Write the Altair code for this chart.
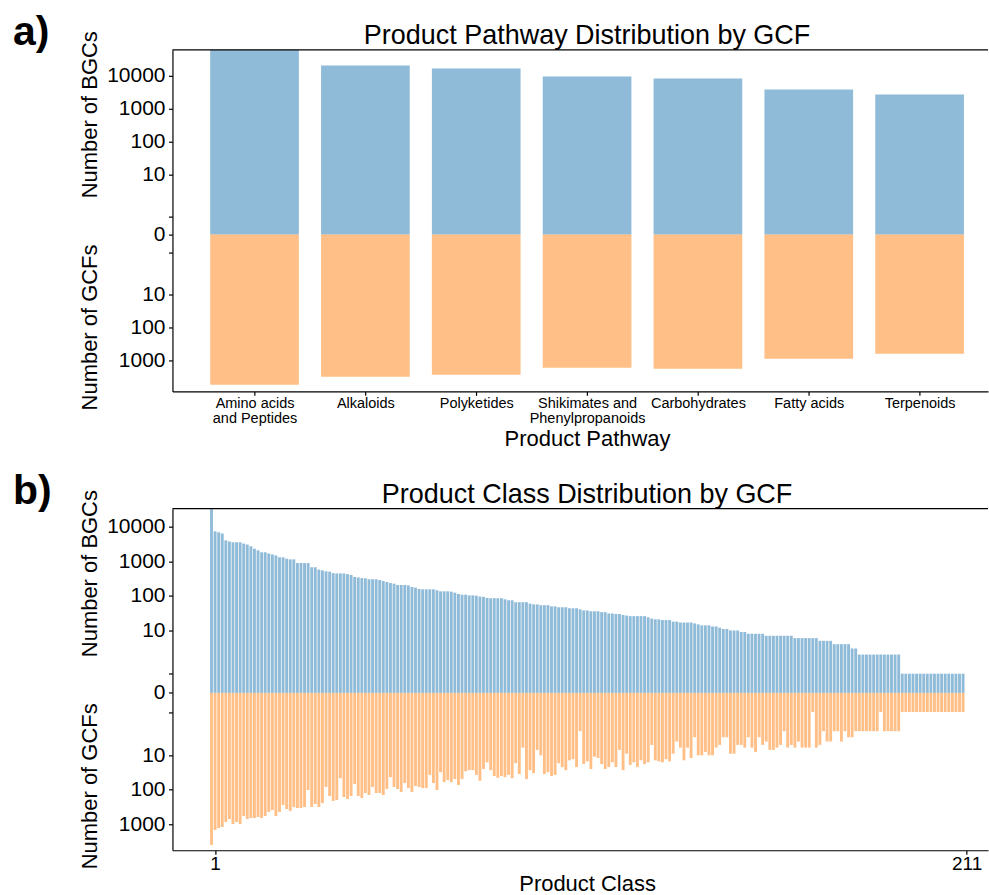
import json
import math
import altair as alt
import pandas as pd

# ---------------- data ----------------
pathways = ["Amino acids and Peptides", "Alkaloids", "Polyketides",
            "Shikimates and Phenylpropanoids", "Carbohydrates", "Fatty acids", "Terpenoids"]
pathway_label_lines = [["Amino acids", "and Peptides"], ["Alkaloids"], ["Polyketides"],
                       ["Shikimates and", "Phenylpropanoids"], ["Carbohydrates"],
                       ["Fatty acids"], ["Terpenoids"]]
pathway_bgcs = [60000, 20000, 16200, 9300, 8100, 3770, 2660]
pathway_gcfs = [5370, 3075, 2680, 1650, 1765, 880, 622]

class_bgcs = [
    36000, 7500, 7000, 6500, 4100, 3800, 3600, 3600, 3600, 3300,
    3100, 2750, 2350, 2100, 1850, 1850, 1700, 1600, 1500, 1320,
    1320, 1200, 1150, 1150, 900, 900, 900, 900, 680, 680,
    580, 550, 520, 505, 460, 450, 450, 450, 430, 405,
    355, 345, 330, 325, 305, 305, 305, 290, 270, 255,
    237, 227, 208, 208, 208, 203, 182, 174, 159, 156,
    156, 156, 156, 146, 136, 136, 136, 133, 125, 114,
    109, 109, 104, 104, 102, 96, 94, 88, 86, 86,
    86, 86, 80, 75, 75, 66, 66, 66, 66, 60,
    57, 57, 54, 54, 54, 50, 50, 47, 47, 47,
    44, 44, 44, 41, 38, 38, 36, 36, 36, 34,
    34, 31, 31, 30, 30, 28, 27, 26, 26, 26,
    26, 26, 24, 22, 21, 21, 20, 20, 20, 18,
    18, 17, 17, 17, 17, 16, 15, 14, 14, 14,
    13, 13, 12, 11, 11, 10, 10, 10, 9, 9,
    8, 8, 8, 8, 8, 7, 7, 7, 7, 7,
    7, 7, 7, 6, 6, 6, 6, 6, 6, 6,
    5, 5, 5, 5, 4, 4, 4, 4, 4, 3,
    3, 2, 2, 2, 2, 2, 2, 2, 2, 2,
    2, 2, 2, 1, 1, 1, 1, 1, 1, 1,
    1, 1, 1, 1, 1, 1, 1, 1, 1, 1,
    1,
]
class_gcfs = [
    4000, 1470, 1290, 1200, 860, 705, 985, 860, 985, 577,
    705, 660, 660, 617, 660, 577, 441, 386, 577, 441,
    277, 361, 413, 316, 338, 338, 316, 102, 316, 259,
    316, 242, 83, 152, 212, 198, 46, 162, 186, 152,
    68, 152, 174, 124, 142, 83, 124, 124, 142, 95,
    43, 83, 95, 116, 64, 89, 116, 78, 83, 89,
    89, 37, 64, 102, 31, 60, 52, 60, 49, 73,
    49, 29, 27, 27, 37, 55, 25, 16, 27, 40,
    45, 40, 43, 37, 46, 17, 35, 6, 49, 27,
    33, 7, 10, 35, 31, 40, 37, 17, 22, 27,
    14, 13, 22, 2, 18, 15, 25, 11, 12, 18,
    25, 22, 16, 22, 7, 27, 9, 19, 16, 22,
    14, 18, 16, 5, 14, 15, 16, 13, 15, 9,
    4, 6, 14, 6, 12, 3, 10, 10, 8, 10,
    10, 6, 5, 3, 3, 9, 9, 5, 5, 6,
    3, 6, 8, 3, 5, 4, 7, 7, 6, 5,
    2, 6, 5, 6, 4, 6, 6, 6, 1, 6,
    5, 2, 4, 4, 2, 2, 4, 2, 3, 3,
    2, 2, 2, 2, 2, 2, 2, 1, 2, 2,
    2, 2, 2, 1, 1, 1, 1, 1, 1, 1,
    1, 1, 1, 1, 1, 1, 1, 1, 1, 1,
    1,
]
class_tick_labels = [1, 211]
y_tick_numbers = [10000, 1000, 100, 10, 0, -10, -100, -1000]
y_minor_numbers = [1, -1]

# ---------------- helpers ----------------
FONT = "Liberation Sans"
BLUE = "#1f77b4"
ORANGE = "#ff7f0e"
W = 816.7
H = 342

# symmetric log (linear below 2, log10 above), same formula used for the data and the ticks
SYMLOG = ("(datum.v < 0 ? -1 : 1) * (abs(datum.v) <= 2 ? abs(datum.v) * 10 / 9 : "
          "2 * (10 / 9 + log(abs(datum.v) / 2) / LN10))")


def symlog(v):
    a = abs(v)
    s = -1 if v < 0 else 1
    return s * (a * 10 / 9 if a <= 2 else 2 * (10 / 9 + math.log10(a / 2)))


Y_LABEL_EXPR = ("abs(datum.value) < 0.001 ? '0' : (abs(abs(datum.value) - 10 / 9) < 0.01 ? '' : "
                "format(2 * pow(10, abs(datum.value) / 2 - 10 / 9), '.0f'))")


def long_table(bgcs, gcfs):
    rows = []
    for i, (b, g) in enumerate(zip(bgcs, gcfs)):
        rows.append({"i": i, "series": "BGCs", "v": b})
        rows.append({"i": i, "series": "GCFs", "v": -g})
    return pd.DataFrame(rows)


one = pd.DataFrame({"k": [0]})


def panel(df, xdomain, ydomain, xaxis, letter, title):
    yaxis = alt.Axis(
        values=[symlog(v) for v in y_tick_numbers + y_minor_numbers],
        labelExpr=Y_LABEL_EXPR, title=None, grid=False,
        tickSize=4, tickWidth=1.2, tickColor="black",
        domainColor="black", domainWidth=1.2,
        labelFontSize=21, labelColor="black", labelPadding=3.5,
        labelOverlap=False, labelFlush=False,
    )
    bars = alt.Chart(df).transform_calculate(
        t=SYMLOG, x1="datum.i - 0.4", x2="datum.i + 0.4"
    ).mark_bar(opacity=0.5).encode(
        x=alt.X("x1:Q", scale=alt.Scale(domain=xdomain, nice=False, zero=False), axis=xaxis),
        x2="x2:Q",
        y=alt.Y("t:Q", scale=alt.Scale(domain=ydomain, nice=False, zero=False, clamp=True), axis=yaxis),
        y2=alt.datum(0),
        color=alt.Color("series:N", scale=alt.Scale(domain=["BGCs", "GCFs"], range=[BLUE, ORANGE]),
                        legend=None),
    )
    frame_top = alt.Chart(one).mark_rule(color="black", strokeWidth=1.2).encode(
        x=alt.value(0), x2=alt.value(W), y=alt.value(0))
    letter_t = alt.Chart(one).mark_text(
        text=letter, align="left", baseline="alphabetic", fontSize=41, fontWeight="bold",
        color="black").encode(x=alt.value(-159.6), y=alt.value(-5))
    title_t = alt.Chart(one).mark_text(
        text=title, align="center", baseline="alphabetic", fontSize=27, color="black"
    ).encode(x=alt.value(415.2), y=alt.value(-6))
    yt1 = alt.Chart(one).mark_text(
        text="Number of BGCs", angle=270, align="center", baseline="alphabetic",
        fontSize=22, color="black").encode(x=alt.value(-75.6), y=alt.value(65))
    yt2 = alt.Chart(one).mark_text(
        text="Number of GCFs", angle=270, align="center", baseline="alphabetic",
        fontSize=22, color="black").encode(x=alt.value(-75.6), y=alt.value(278))
    return alt.layer(bars, frame_top, letter_t, title_t, yt1, yt2).properties(width=W, height=H)


# ---------------- panel a ----------------
df_a = long_table(pathway_bgcs, pathway_gcfs)
xaxis_a = alt.Axis(
    values=list(range(len(pathways))),
    labelExpr=json.dumps(pathway_label_lines) + "[datum.value]",
    title="Product Pathway", titleFontSize=22, titleFontWeight="normal", titleColor="black",
    titleX=415.2, titleY=54.5, titleBaseline="alphabetic", titleAlign="center",
    grid=False, tickSize=4, tickWidth=1.2, tickColor="black",
    domainColor="black", domainWidth=1.2,
    labelFontSize=14.5, labelLineHeight=15, labelColor="black", labelPadding=1.5,
    labelOverlap=False, labelFlush=False,
)
chart_a = panel(df_a, [-0.7405, 6.617], [-9.478, 11.168], xaxis_a, "a)",
                "Product Pathway Distribution by GCF")

# ---------------- panel b ----------------
df_b = long_table(class_bgcs, class_gcfs)
xaxis_b = alt.Axis(
    values=class_tick_labels,
    labelExpr="format(datum.value, 'd')",
    title="Product Class", titleFontSize=22, titleFontWeight="normal", titleColor="black",
    titleX=415.2, titleY=40.7, titleBaseline="alphabetic", titleAlign="center",
    grid=False, tickSize=4, tickWidth=1.2, tickColor="black",
    domainColor="black", domainWidth=1.2,
    labelFontSize=19, labelColor="black", labelPadding=0.7,
    labelOverlap=False, labelFlush=False,
)
chart_b = panel(df_b, [-10.91, 216.96], [-9.128, 10.681], xaxis_b, "b)",
                "Product Class Distribution by GCF")

chart = alt.vconcat(chart_a, chart_b, spacing=20.5).properties(
    padding={"left": 12.7, "top": 11.3, "right": 0, "bottom": 0},
    background="white",
).configure(font=FONT).configure_view(strokeWidth=0)

chart.save("out.html", embed_options={"renderer": "svg", "actions": False})
